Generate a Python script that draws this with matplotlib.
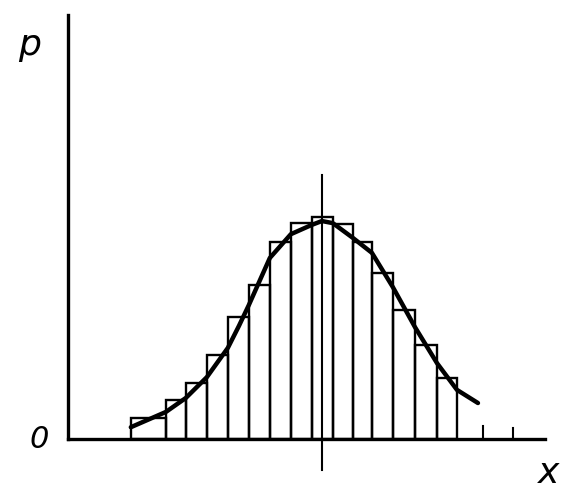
"""Histogram of a distribution with a smooth density curve drawn over it."""
import numpy as np
import matplotlib
matplotlib.use("Agg")
import matplotlib.pyplot as plt  # noqa: E402

# bin edges (x) and bar heights (p)
bin_edges = [-9.10, -7.43, -6.48, -5.48, -4.48, -3.48, -2.48, -1.48, -0.48,
             0.52, 1.48, 2.38, 3.38, 4.43, 5.48, 6.43]
bar_heights = [0.050, 0.092, 0.132, 0.198, 0.288, 0.363, 0.465, 0.509,
               0.524, 0.507, 0.465, 0.392, 0.304, 0.222, 0.144]

# density curve
curve_x = [-9.10, -7.43, -6.48, -5.48, -4.48, -3.95, -3.48, -2.48, -1.48,
           -0.48, 0.00, 0.52, 1.48, 2.38, 3.38, 4.43, 5.48, 6.43, 7.43]
curve_p = [0.028, 0.064, 0.097, 0.146, 0.215, 0.267, 0.316, 0.427, 0.483,
           0.505, 0.514, 0.509, 0.474, 0.439, 0.358, 0.264, 0.179, 0.116, 0.085]

# extra marks on the x axis
tick_x = [7.67, 9.10]
tick_len = [0.031, 0.025]

fig = plt.figure(figsize=(5.88, 5.04), dpi=100)
ax = fig.add_axes([0, 0, 1, 1])
ax.set_xlim(-15.33, 12.67)
ax.set_ylim(-0.153, 1.035)
ax.axis("off")

edges = np.array(bin_edges)
ax.bar(edges[:-1], bar_heights, width=np.diff(edges), align="edge",
       fill=False, edgecolor="black", linewidth=1.7)

ax.plot(curve_x, curve_p, color="black", linewidth=3.2,
        solid_capstyle="round", solid_joinstyle="round")

# axes
ax.plot([-12.1, -12.1], [0, 1.0], color="black", linewidth=2.4)
ax.plot([-12.1, 10.62], [0, 0], color="black", linewidth=2.4)
ax.plot([0, 0], [-0.073, 0.623], color="black", linewidth=1.5)
for tx, tl in zip(tick_x, tick_len):
    ax.plot([tx, tx], [0, tl], color="black", linewidth=1.5)

ax.text(-13.9, 0.93, "p", fontsize=26, style="italic", ha="center", va="center")
ax.text(-13.45, 0.0, "0", fontsize=22, style="italic", ha="center", va="center")
ax.text(10.8, -0.08, "x", fontsize=26, style="italic", ha="center", va="center")

fig.savefig("out.png", dpi=100)
plt.close(fig)
